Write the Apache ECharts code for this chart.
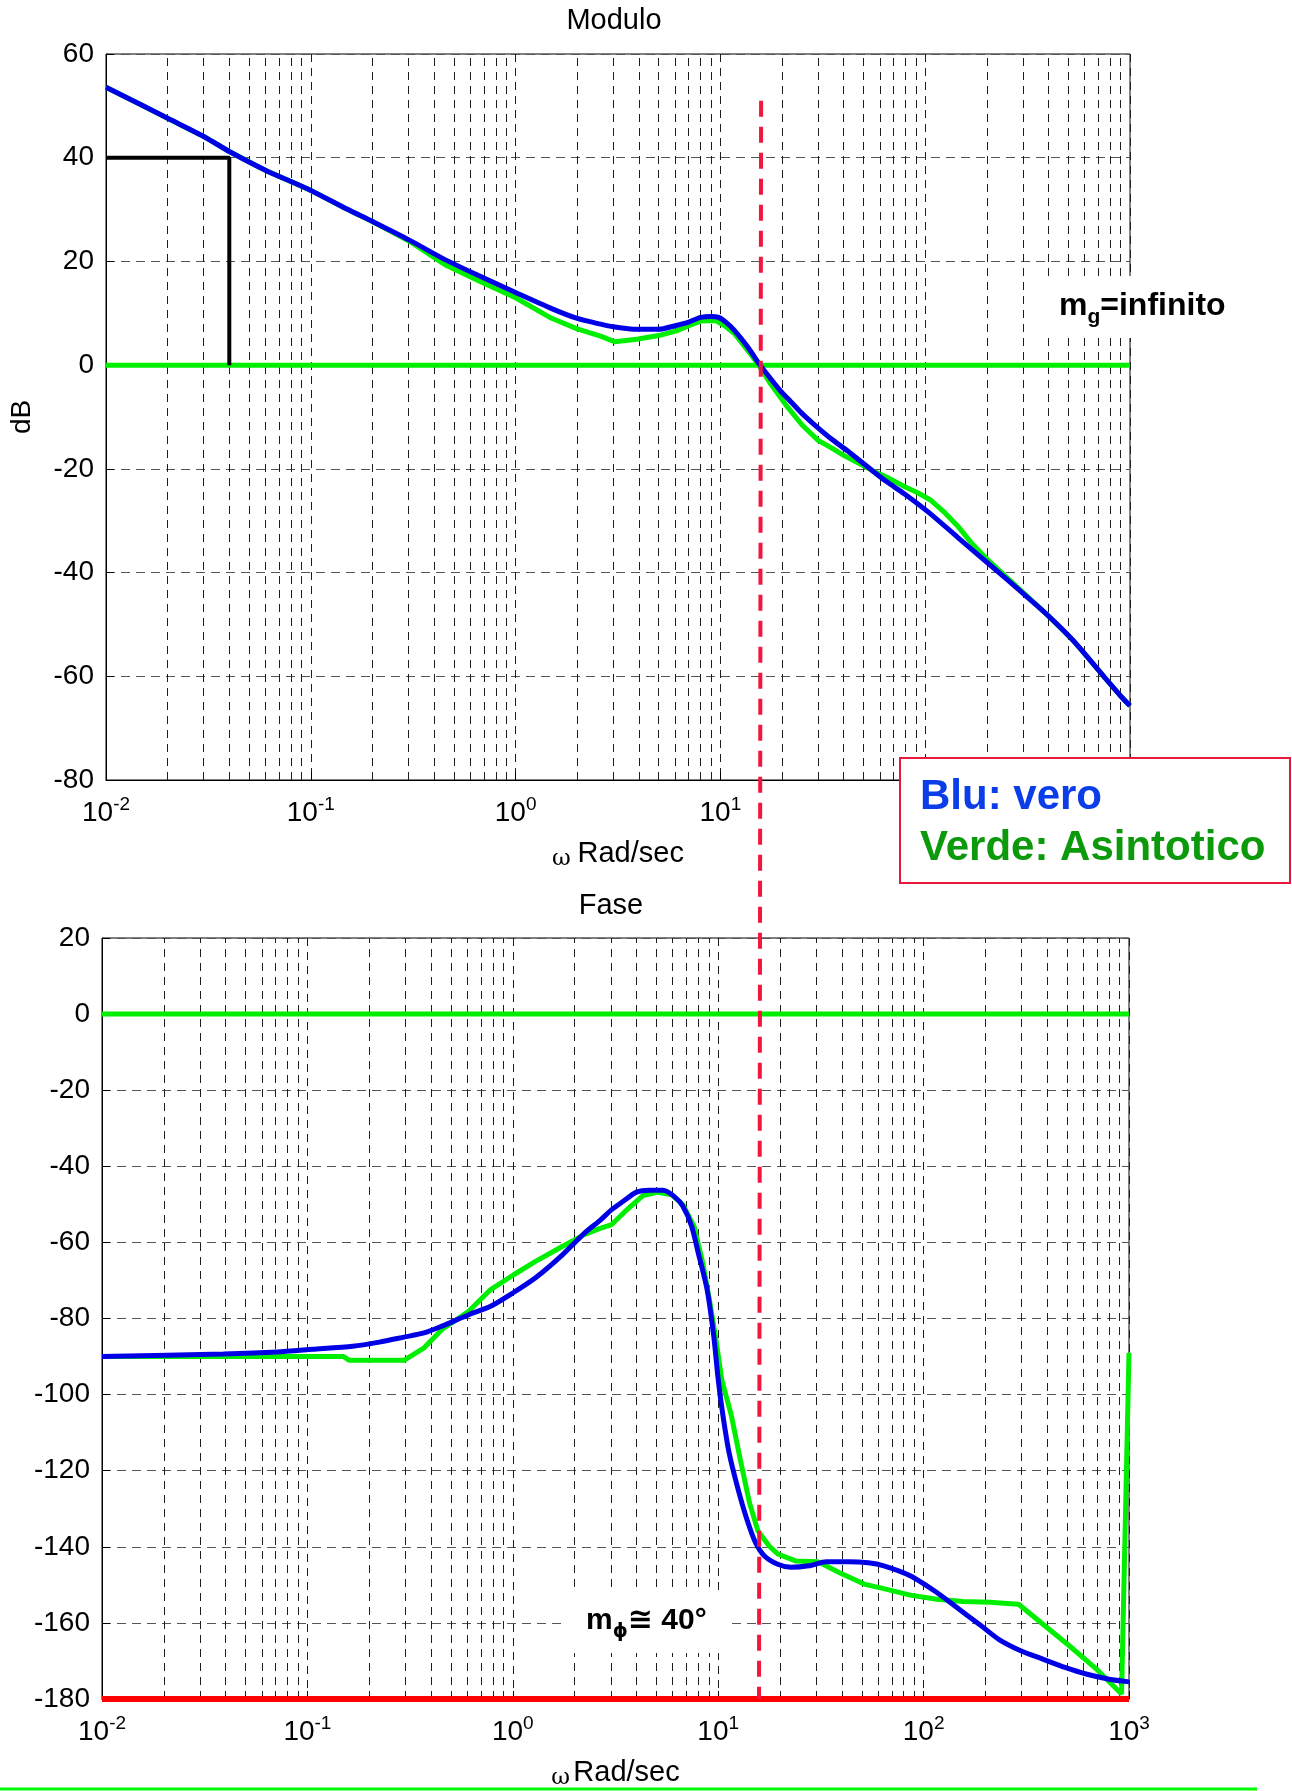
<!DOCTYPE html>
<html><head><meta charset="utf-8">
<script src="https://cdn.jsdelivr.net/npm/echarts@6/dist/echarts.min.js"></script>
<style>html,body{margin:0;padding:0;background:#fff}#c{width:1292px;height:1791px}</style>
</head><body><div id="c"></div>
<script>
// ---- data ----
const magTrueW = [0.01,0.015,0.02,0.03,0.04,0.06,0.1,0.15,0.2,0.3,0.46,0.7,1,1.5,2,2.6,3,3.9,5,6,7,8,9,9.8,10.7,11.7,13.6,15.5,17.5,19.5,22,25,29,35,42,55,65,79,104,144,204,290,391,528,751,900,1000];
const magTrue  = [53.6,50.1,47.6,44.1,41.2,37.6,33.7,30.1,27.7,24.2,20.2,16.8,14.0,10.9,9.0,7.9,7.4,6.9,6.9,7.6,8.3,9.2,9.4,9.2,8.2,6.7,3.5,0.2,-2.5,-4.8,-7.0,-9.3,-11.6,-14.3,-16.6,-20.3,-22.5,-24.8,-28.4,-33.2,-38.3,-43.5,-48.0,-53.1,-60.2,-63.8,-65.7];
const magAsyW  = [0.01,0.015,0.02,0.03,0.04,0.06,0.1,0.15,0.2,0.3,0.46,0.7,1,1.47,2,2.6,3.06,3.9,5,6.1,7,8,9.5,10.5,11.7,14,15.4,17.5,21,25,30,35,40,55,65,79,92,106,125,144,170,204,290,391,528,751,900,1000];
const magAsy   = [53.6,50.1,47.6,44.1,41.2,37.6,33.7,30.1,27.7,24.0,19.2,15.8,13.0,9.2,7.0,5.6,4.5,5.0,5.7,6.6,7.6,8.5,8.6,7.6,6.1,2.2,0,-3.5,-7.8,-11.5,-14.5,-16.0,-17.4,-20.3,-21.6,-23.4,-24.6,-26.0,-28.5,-31.0,-34.5,-37.7,-43.3,-48.0,-53.1,-60.2,-63.8,-65.7];
const phTrueW  = [0.01,0.039,0.071,0.106,0.166,0.224,0.295,0.37,0.452,0.61,0.78,1.0,1.29,1.75,2.24,2.66,3.03,3.45,4.0,4.64,5.39,6.1,6.73,7.43,8.0,8.83,9.51,10,10.5,11.3,12.5,13.8,15.2,16.8,19.5,22.6,27.6,33.6,43.1,53.8,64,86,116,141.5,190,232,297,380,488,625,800,1000];
const phTrue   = [-90,-89.3,-88.8,-88.1,-87.3,-86.2,-84.9,-83.8,-82.0,-79.0,-76.8,-73.3,-69.3,-63.2,-57.5,-54.2,-51.4,-49.2,-46.8,-46.3,-46.3,-47.9,-50.5,-55.8,-62.8,-72.4,-84.6,-96,-104.8,-115.3,-124.9,-132.8,-138.9,-142.4,-144.6,-145.4,-145,-143.9,-143.9,-144.2,-145,-147.6,-152,-155.5,-160.7,-164.3,-167.3,-169.5,-171.7,-173.5,-174.8,-175.5];
const phAsyW   = [0.01,0.15,0.16,0.295,0.37,0.452,0.61,0.78,1.01,1.29,1.75,2.24,2.66,3.03,3.5,4.3,5.1,5.94,6.73,7.63,8.41,9.06,9.75,10.4,11.6,12.8,14.2,15.6,17.7,19.5,23.8,30.5,39,51.3,64,86,116,156,210,290,380,512,690,920,1000];
const phAsy    = [-90,-90,-91,-91,-87.7,-82.9,-78.1,-72.4,-68.5,-65.0,-61.0,-57.9,-56.3,-55.3,-52.0,-47.7,-46.8,-47.5,-50.1,-55.8,-65.4,-75,-85.5,-96,-105.6,-117,-128.4,-135.8,-139.8,-141.9,-143.7,-143.9,-146.8,-149.8,-151,-152.7,-153.8,-154.4,-154.6,-155.1,-160.3,-166,-172,-178.7,-89];
const refW     = [0.01, 1000];
const refZero  = [0, 0];
const refM180  = [-180, -180];
const kneeW    = [0.01, 0.04, 0.04];
const kneeDb   = [40, 40, 0];
const crossW   = 15.8;     // crossover frequency (red dashed line)
const crossTopDb = 51;
const crossBottomDeg = -180;
const minorTicks = [0.02,0.03,0.04,0.05,0.06,0.07,0.08,0.09,0.2,0.3,0.4,0.5,0.6,0.7,0.8,0.9,2,3,4,5,6,7,8,9,20,30,40,50,60,70,80,90,200,300,400,500,600,700,800,900];
const magTicks = [-80, 60, 20];   // min, max, step
const phTicks  = [-180, 20, 20];

// ---- chart ----
const F = 'Liberation Sans, Arial, sans-serif';
const BLUE = '#0000e6', GREEN = '#00ef00', RED = '#ff0000', DASHRED = '#f2163e';
const VGRID = '#1e1e1e', HGRID = '#555';
const pts = (w, v) => w.map((x, i) => [x, v[i]]);
const chart = echarts.init(document.getElementById('c'), null, {renderer: 'canvas', width: 1292, height: 1791});

function xAx(gi, nameStr, gap) {
  return {
    type: 'log', logBase: 10, min: 0.01, max: 1000, gridIndex: gi,
    axisLine: {show: true, onZero: false, lineStyle: {color: '#000', width: 1}},
    axisTick: {show: true, inside: true, length: 8, lineStyle: {color: '#000'}},
    axisLabel: {
      margin: 15,
      formatter: v => '{b|10}{s|' + Math.round(Math.log10(v)) + '}',
      rich: {
        b: {fontSize: 28, fontFamily: F, color: '#000', lineHeight: 32, verticalAlign: 'bottom'},
        s: {fontSize: 19, fontFamily: F, color: '#000', lineHeight: 10, verticalAlign: 'top'}
      }
    },
    splitLine: {show: true, lineStyle: {color: VGRID, type: [8, 6], width: 1}},
    name: nameStr, nameLocation: 'middle', nameGap: gap,
    nameTextStyle: {
      rich: {
        w: {fontSize: 23, fontFamily: 'DejaVu Serif, Liberation Serif, serif', color: '#000', lineHeight: 28, verticalAlign: 'bottom'},
        r: {fontSize: 29, fontFamily: F, color: '#000', lineHeight: 34}
      }
    }
  };
}
function yAx(gi, t, nameStr) {
  return {
    type: 'value', gridIndex: gi, min: t[0], max: t[1], interval: t[2],
    axisLine: {show: true, onZero: false, lineStyle: {color: '#000', width: 1}},
    axisTick: {show: true, inside: true, length: 8, lineStyle: {color: '#000'}},
    axisLabel: {margin: 12, fontSize: 28, fontFamily: F, color: '#000'},
    splitLine: {show: true, lineStyle: {color: HGRID, type: [9, 6], width: 1}},
    name: nameStr, nameLocation: 'middle', nameGap: 70, nameRotate: 90,
    nameTextStyle: {fontSize: 28, fontFamily: F, color: '#000'}
  };
}
const minorML = {
  silent: true, z: 1, symbol: ['none', 'none'], label: {show: false},
  lineStyle: {color: VGRID, type: [8, 6], width: 1},
  emphasis: {disabled: true},
  data: minorTicks.map(v => ({xAxis: v}))
};
function ln(xi, data, color, width, z, smooth) {
  return {type: 'line', xAxisIndex: xi, yAxisIndex: xi, data: data, showSymbol: false, symbol: 'none',
    smooth: smooth || false,
    lineStyle: {color: color, width: width}, itemStyle: {color: color}, z: z, silent: true};
}

const s1 = ln(0, pts(refW, refZero), GREEN, 5, 2); s1.markLine = minorML;
const s5 = ln(1, pts(refW, refZero), GREEN, 5, 2); s5.markLine = minorML;

chart.setOption({
  animation: false,
  backgroundColor: '#fff',
  grid: [
    {left: 105, top: 54, width: 1025, height: 726, show: true, borderColor: '#000', borderWidth: 1},
    {left: 102, top: 938, width: 1027, height: 765, show: true, borderColor: '#000', borderWidth: 1}
  ],
  xAxis: [xAx(0, '{w|ω}  {r|Rad/sec}', 57), xAx(1, '{w|ω} {r|Rad/sec}', 57)],
  yAxis: [yAx(0, magTicks, 'dB'), yAx(1, phTicks, '')],
  series: [
    s1,
    ln(0, pts(kneeW, kneeDb), '#000', 4, 2),
    ln(0, pts(magAsyW, magAsy), GREEN, 5, 3),
    ln(0, pts(magTrueW, magTrue), BLUE, 5, 3, 0.25),
    s5,
    ln(1, pts(refW, refM180), RED, 6, 2),
    ln(1, pts(phAsyW, phAsy), GREEN, 5, 3),
    ln(1, pts(phTrueW, phTrue), BLUE, 5, 3, 0.25)
  ]
});

const p1 = chart.convertToPixel({gridIndex: 0}, [crossW, crossTopDb]);
const p2 = chart.convertToPixel({gridIndex: 1}, [crossW, crossBottomDeg]);

chart.setOption({
  graphic: [
    {type: 'text', x: 614, y: 21, z: 5, style: {text: 'Modulo', font: '29px ' + F, fill: '#000', textAlign: 'center', textVerticalAlign: 'middle'}},
    {type: 'text', x: 611, y: 906, z: 5, style: {text: 'Fase', font: '29px ' + F, fill: '#000', textAlign: 'center', textVerticalAlign: 'middle'}},
    {type: 'rect', z: 1.5, shape: {x: 1048, y: 276, width: 195, height: 62}, style: {fill: '#fff'}},
    {type: 'text', x: 1059, y: 290, z: 6, style: {
      text: '{m|m}{g|g}{m|=infinito}', textAlign: 'left', textVerticalAlign: 'top',
      rich: {
        m: {fontSize: 32, fontWeight: 'bold', fontFamily: F, fill: '#000', color: '#000', lineHeight: 38, verticalAlign: 'top'},
        g: {fontSize: 21, fontWeight: 'bold', fontFamily: F, fill: '#000', color: '#000', lineHeight: 21, verticalAlign: 'bottom'}
      }}},
    {type: 'rect', z: 1.5, shape: {x: 567, y: 1590, width: 165, height: 63}, style: {fill: '#fff'}},
    {type: 'text', x: 586, y: 1606, z: 6, style: {
      text: '{m|m}{p|ϕ}{m|≅ 40°}', textAlign: 'left', textVerticalAlign: 'top',
      rich: {
        m: {fontSize: 30, fontWeight: 'bold', fontFamily: F + ', DejaVu Sans', fill: '#000', color: '#000', lineHeight: 36, verticalAlign: 'top'},
        p: {fontSize: 19, fontWeight: 'bold', fontFamily: 'DejaVu Sans, sans-serif', fill: '#000', color: '#000', lineHeight: 19, verticalAlign: 'bottom'}
      }}},
    {type: 'line', z: 4, shape: {x1: p1[0], y1: p1[1], x2: p2[0], y2: p2[1]},
      style: {stroke: DASHRED, lineWidth: 4, lineDash: [16, 10]}},
    {type: 'rect', z: 10, shape: {x: 900, y: 758, width: 390, height: 125},
      style: {fill: '#fff', stroke: '#e8193c', lineWidth: 2}},
    {type: 'text', x: 920, y: 797, z: 11, style: {text: 'Blu: vero', font: 'bold 42px ' + F, fill: '#0b3de8', textAlign: 'left', textVerticalAlign: 'middle'}},
    {type: 'text', x: 920, y: 848, z: 11, style: {text: 'Verde: Asintotico', font: 'bold 42px ' + F, fill: '#0c9a0c', textAlign: 'left', textVerticalAlign: 'middle'}},
    {type: 'line', z: 11, shape: {x1: 0, y1: 1789, x2: 1257, y2: 1789}, style: {stroke: '#00ff00', lineWidth: 3}}
  ]
});
</script>
</body></html>
